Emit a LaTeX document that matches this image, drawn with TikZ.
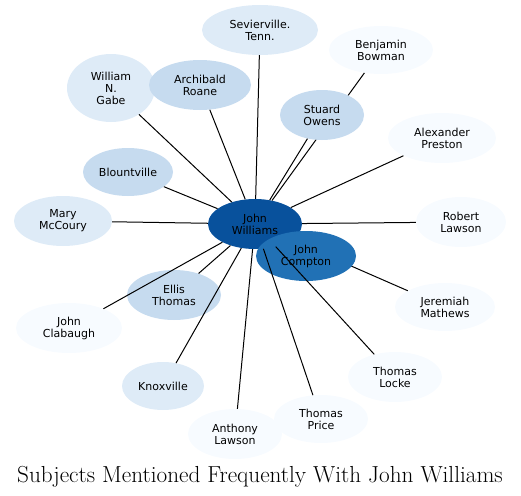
\documentclass[tikz,border=0pt]{standalone}
\usepackage{fontspec}
\newfontfamily\subjfont{DejaVu Sans}
\usetikzlibrary{shapes.geometric}
\definecolor{bluea}{HTML}{08519C}
\definecolor{blueb}{HTML}{2171B5}
\definecolor{bluec}{HTML}{C6DBEF}
\definecolor{blued}{HTML}{DEEBF7}
\definecolor{bluee}{HTML}{F7FBFF}
\tikzset{
  subj/.style={ellipse,draw=none,align=center,inner sep=0pt,minimum height=50pt,
    font=\subjfont\fontsize{11}{12}\selectfont,text=black},
  link/.style={draw=black,line width=1pt}
}

\begin{document}
\begin{tikzpicture}[x=1pt,y=-1pt]
\useasboundingbox (0,0) rectangle (521,495);

\node[subj,fill=bluea,minimum width=94pt] (jw) at (255,224) {John\\Williams};

\node[subj,fill=blued,minimum width=116pt] (sev) at (260,30) {Sevierville.\\Tenn.};
\node[subj,fill=bluee,minimum width=104pt,minimum height=48pt] (bowman) at (381,50) {Benjamin\\Bowman};
\node[subj,fill=blued,minimum width=88pt,minimum height=68pt] (gabe) at (111,88) {William\\N.\\Gabe};
\node[subj,fill=bluec,minimum width=102pt] (roane) at (200,85) {Archibald\\Roane};
\node[subj,fill=bluee,minimum width=108pt] (preston) at (442,138) {Alexander\\Preston};
\node[subj,fill=bluec,minimum width=90pt,minimum height=48pt] (blount) at (128,172) {Blountville};
\node[subj,fill=blued,minimum width=98pt] (mccoury) at (63,221) {Mary\\McCoury};
\node[subj,fill=bluee,minimum width=90pt] (rlawson) at (461,222) {Robert\\Lawson};
\node[subj,fill=bluec,minimum width=94pt] (ellis) at (174,295) {Ellis\\Thomas};
\node[subj,fill=bluee,minimum width=100pt,minimum height=48pt] (jeremiah) at (445,307) {Jeremiah\\Mathews};
\node[subj,fill=bluee,minimum width=106pt] (clabaugh) at (69,328) {John\\Clabaugh};
\node[subj,fill=bluee,minimum width=94pt] (locke) at (395,377) {Thomas\\Locke};
\node[subj,fill=blued,minimum width=82pt,minimum height=48pt] (knox) at (163,386) {Knoxville};
\node[subj,fill=bluee,minimum width=94pt] (alawson) at (235,434) {Anthony\\Lawson};
\node[subj,fill=bluee,minimum width=94pt,minimum height=48pt] (price) at (321,419) {Thomas\\Price};

% these two run under the nodes drawn next
\draw[link] (jw) -- (bowman);
\draw[link] (jw) -- (jeremiah);

\node[subj,fill=bluec,minimum width=84pt] (owens) at (322,115) {Stuard\\Owens};
\node[subj,fill=blueb,minimum width=100pt] (jc) at (306,256) {John\\Compton};

\foreach \s in {sev,gabe,roane,owens,preston,blount,mccoury,rlawson,ellis,clabaugh,locke,knox,price,alawson}
  \draw[link] (jw) -- (\s);

\node[font=\fontsize{23.2}{27}\selectfont,anchor=base] (title) at (260,482) {Subjects Mentioned Frequently With John Williams};
\end{tikzpicture}
\end{document}
